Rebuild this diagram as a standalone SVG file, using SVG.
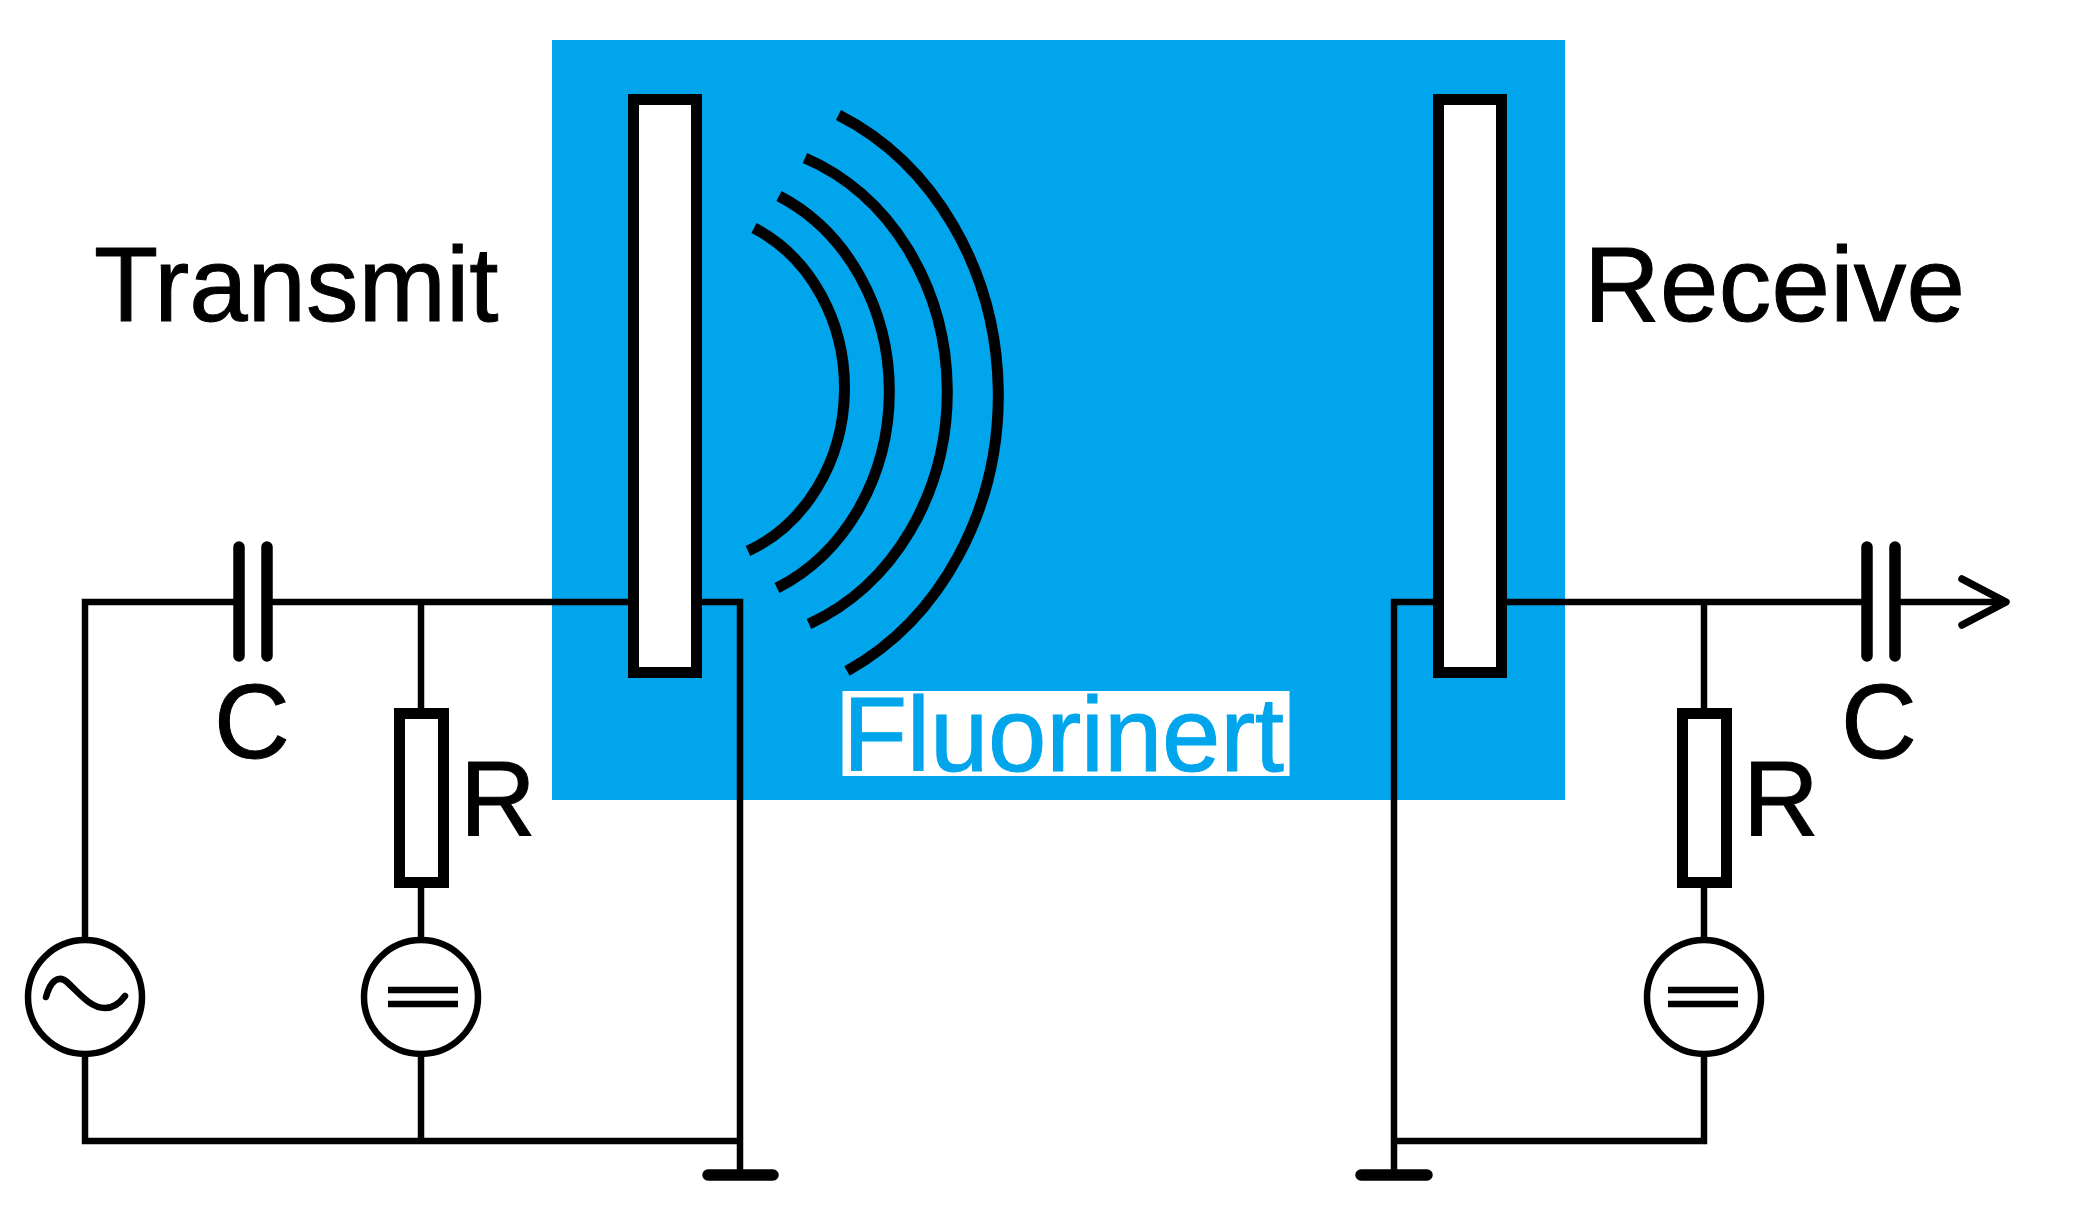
<svg xmlns="http://www.w3.org/2000/svg" width="2074" height="1228" viewBox="0 0 2074 1228">
<style>
.w{fill:none;stroke:#000;stroke-width:6.500}
.t{fill:none;stroke:#000;stroke-width:11.500;stroke-linecap:round}
.a{fill:none;stroke:#000;stroke-width:11}
.b{fill:#fff;stroke:#000;stroke-width:11}
.s{fill:#fff;stroke:#000;stroke-width:6.500}
text{font-family:"Liberation Sans",Arial,sans-serif;font-size:105px;fill:#000;stroke:#000;stroke-width:1}
</style>
<rect width="2074" height="1228" fill="#fff"/>
<rect id="tank" x="552" y="40" width="1013" height="760" fill="#00a5ec"/>
<g id="connectors">
<path class="w" d="M239 602H85V1141H740M267 602H633M421 602V1141M696 602H740V1175"/>
<path class="w" d="M1867 602H1502M1438 602H1394V1175M1394 1141H1704V602M1895 602H2006"/>
<path d="M1962 579L2006 602L1962 625" fill="none" stroke="#000" stroke-width="7.500" stroke-linecap="round" stroke-linejoin="round"/>
</g>
<g id="transmit-plate"><rect class="b" x="633.500" y="99.500" width="63" height="573"/></g>
<g id="receive-plate"><rect class="b" x="1438.500" y="99.500" width="63" height="573"/></g>
<g id="waves">
<path class="a" d="M754 228A155 176 0 0 1 748 551"/>
<path class="a" d="M779 196A189 215 0 0 1 777 588"/>
<path class="a" d="M805 158A220 250 0 0 1 809 624"/>
<path class="a" d="M838.500 115A270 307 0 0 1 847 671"/>
</g>
<g id="label-fluorinert"><rect x="842.500" y="691" width="447" height="85" fill="#fff"/><text x="843" y="771" style="fill:#00a5ec;stroke:#00a5ec" textLength="441" lengthAdjust="spacing">Fluorinert</text></g>
<g id="label-transmit"><text x="94" y="321">Transmit</text></g>
<g id="label-receive"><text x="1584" y="321" textLength="381">Receive</text></g>
<g id="cap-left"><path class="t" d="M239 547V656M267 547V656"/><text x="214" y="758">C</text></g>
<g id="cap-right"><path class="t" d="M1867 547V656M1895 547V656"/><text x="1841" y="758">C</text></g>
<g id="res-left"><rect class="b" x="399.500" y="713.500" width="44" height="169"/><text x="460" y="835">R</text></g>
<g id="res-right"><rect class="b" x="1682.500" y="713.500" width="44" height="169"/><text x="1743" y="835">R</text></g>
<g id="source-ac"><circle class="s" cx="85" cy="997" r="57"/><path d="M46 997C50 982 58 974 67 982C78 992 90 1008 105 1008C114 1008 120 1003 125 996" fill="none" stroke="#000" stroke-width="6.500" stroke-linecap="round"/></g>
<g id="source-dc-left"><circle class="s" cx="421" cy="997" r="57"/><path class="w" d="M388 990H458M388 1004H458"/></g>
<g id="source-dc-right"><circle class="s" cx="1704" cy="997" r="57"/><path class="w" d="M1668 990H1738M1668 1004H1738"/></g>
<g id="ground-left"><path class="t" d="M708 1175H773"/></g>
<g id="ground-right"><path class="t" d="M1361 1175H1427"/></g>
</svg>
